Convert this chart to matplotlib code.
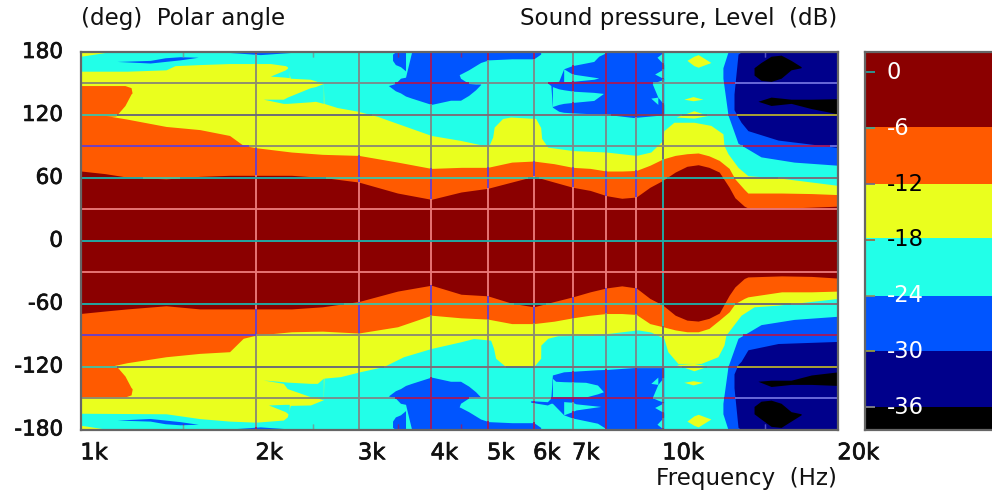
import numpy as np
import matplotlib
matplotlib.use("Agg")
import matplotlib.pyplot as plt
from matplotlib.collections import LineCollection
import matplotlib.patheffects as pe

W, H = 992, 493
COL = {'red': '#8b0000', 'orange': '#ff5a00', 'yellow': '#eaff1e', 'cyan': '#22ffe8',
       'blue': '#0055ff', 'navy': '#00008b', 'black': '#000000'}
GRID_MINOR = {'red': '#ea7878', 'orange': '#6a40c8', 'yellow': '#8c8c70', 'cyan': '#7a8c8c',
              'blue': '#a01a60', 'navy': '#6c6cdc', 'black': '#6c6cdc'}
GRID_MAJOR = {'red': '#20aca8', 'orange': '#44c0a0', 'yellow': '#686878', 'cyan': '#7c6c78',
              'blue': '#8a3a58', 'navy': '#b0a830', 'black': '#b0a830'}

# ---- main contour boundaries: frequency (Hz) / polar angle (deg)
F_MAIN = [1000, 1100, 1200, 1400, 1600, 1800, 1900, 2000, 2300, 2600, 3000, 3500, 4000, 4500, 5000,
          5500, 6000, 6500, 7000, 7500, 8000, 8500, 9000, 9500, 10000, 10500, 11000, 11500, 12000,
          12500, 13000, 13300, 13800, 14000, 16000, 18000, 20000]
RED_TOP = [66.5, 64, 60.7, 59, 61.4, 62.4, 62.4, 62.4, 62.4, 60.4, 56, 45.5, 39.5, 46.5, 50,
           56, 61.4, 56, 51, 48, 43, 40.5, 41.7, 51, 57.6, 65.5, 71, 72.5, 70,
           65.5, 51, 41, 33, 31.3, 31, 32, 33]
RED_BOT = [-69.3, -67, -65, -62, -65, -65, -65, -65, -65, -63, -58, -48, -42.4, -51, -52.5,
           -59.6, -63, -58, -53.5, -48.7, -45, -43, -45, -55, -61.4, -71, -75.7, -76.6, -74,
           -69, -52, -44, -36, -34.5, -33.5, -34, -35.6]
ORANGE_TOP = [119.5, 119.5, 116, 109, 106, 100.4, 91, 88.7, 84.6, 82.4, 81.4, 75, 69, 70, 70,
              75, 76, 73.5, 70, 69, 66.5, 66.5, 67, 72, 78, 81.4, 83, 83.7, 81,
              76.6, 69, 59, 49, 45.5, 45.5, 45, 44]
ORANGE_BOT = [-120.8, -120.8, -116.3, -110.6, -107.4, -105.8, -93, -90, -86.8, -86.2, -88, -82, -71, -73.5, -74.7,
              -79, -79, -76.7, -73.5, -71, -69.4, -69.4, -70.3, -79, -82, -85, -86.8, -86.8, -83.6,
              -75.7, -67.8, -60, -55, -53.5, -48.7, -48.7, -48]

YEL_TOP_F = [1000, 1200, 1400, 1451, 1600, 1800, 2000, 2115, 2245, 2262, 2289, 2479, 2609, 2615, 2758, 2985,
             3232, 4000, 4490, 4729, 5018, 5100, 5130, 5303, 5475, 6046, 6166, 6190, 6341, 7000, 8000, 9000,
             9535, 10000, 10040, 10446, 11308, 12094, 12683, 12735, 12940, 13465, 14003, 15777, 18000, 20000]
YEL_TOP_A = [161.7, 161.7, 163, 167, 168, 169, 169, 169, 167, 166, 155, 154, 150, 131, 127, 123.6,
             118.6, 100.4, 95.7, 93, 90, 99, 108.4, 116.6, 118, 116.6, 108, 97.6, 89.3, 86, 84.6, 81.4,
             84.6, 95.7, 105, 113, 113, 110, 102, 91, 83, 70, 62, 60, 56, 52.8]
YEL_BOT_F = [1000, 1400, 1600, 1800, 2000, 2227, 2262, 2289, 2479, 2609, 2615, 2791, 3022, 3310, 3583, 4000,
             4490, 4729, 5058, 5118, 5159, 5368, 6000, 6166, 6170, 6341, 6597, 7606, 9057, 9535, 10040, 10200,
             10613, 11627, 12434, 12735, 12835, 13627, 14346, 15777, 20000]
YEL_BOT_A = [-164.5, -165, -169.6, -172, -173, -171, -168, -157, -156.6, -151.6, -131, -129.6, -124.8, -120, -110.6, -102.7,
             -96.4, -93.2, -94.8, -102.7, -112, -120, -120, -112, -99.5, -93, -90.6, -90, -85, -87, -93, -105.8,
             -117, -117, -110.6, -99.5, -90, -71, -63, -61.4, -55]

# ---- regions as (freq, near edge, far edge); one list per half of the plot
BLUE_SHARED = [
    ([3431, 3470, 3540, 3612], [172, 168, 166, 162], [178, 180, 180, 180]),
    ([3375, 3470, 3540, 3612, 3700, 4000, 4316, 4490, 4636, 4766, 4862],
     [148, 143, 141, 138, 136, 130, 134, 134, 138.6, 144, 149],
     [148, 150, 155, 156, 180, 180, 180, 155, 150, 149.5, 149.5]),
    ([4316, 4490, 4636, 4862, 5018, 5500, 6000, 6166], [155, 159, 163, 170, 172.5, 173.5, 173.5, 178],
     [180, 180, 180, 180, 180, 180, 180, 180]),
    ([12683, 12940, 13465, 14747, 16810, 20000], [155, 120, 93, 80, 75, 72], [165, 180, 180, 180, 180, 180]),
    ([1153, 1315, 1395, 1480, 1590], [171, 169.5, 171, 172.5, 175], [171, 172, 174.5, 175.5, 175]),
    ([1805, 2033, 2289], [179.5, 177.5, 179.5], [180, 180, 180]),
]
BLUE_RIGHT_TOP = ([6332, 6420, 6459, 6622, 6754, 6988, 7607, 7760, 8031, 8900, 10000, 10040],
                  [150.6, 148, 127.4, 123.5, 122.5, 122, 121, 120.8, 120.4, 117.5, 120, 120],
                  [150.6, 151, 151.5, 152, 164, 167, 171, 176, 180, 180, 180, 180])
BLUE_RIGHT_BOT = ([5928, 6332, 6420, 6459, 6754, 6988, 7720, 8031, 8900, 10000, 10040],
                  [-152.5, -153.5, -150, -128, -125, -124.5, -123, -122.7, -121, -121, -121],
                  [-154, -156.6, -155, -155, -166, -169, -174, -180, -180, -180, -180])
NAVY_TOP = [([13252, 13465, 13627, 14003, 15777, 20000], [125, 118, 113, 105, 96, 89], [140, 178, 180, 180, 180, 180])]
NAVY_BOT = [([13252, 13465, 13627, 14003, 15777, 20000], [-127, -118, -115, -104, -98, -96],
             [-140, -178, -180, -180, -180, -180])]
BLACK_TOP = [([14346, 14747, 15347, 15967, 16610, 17284], [158, 153, 152, 155, 163, 165], [165, 170, 176, 177, 172, 166]),
             ([14568, 15347, 16610, 18000, 20000], [133, 129, 131, 126, 121], [133, 137, 135, 135, 135.5])]
BLACK_BOT = [([14346, 14747, 15347, 15967, 16610, 17284], [-158, -153, -152, -155, -163, -165], [-165, -170, -177, -178, -172, -166]),
             ([14568, 15347, 16610, 18000, 20000], [-134, -133, -133, -128, -125], [-134, -139, -137, -137, -138])]
CYAN_TEETH = [
    ([9770, 10040], [175, 168], [175, 180]),
    ([9680, 10040], [159, 154.5], [159, 164]),
    ([9590, 9803, 10040], [149.6, 137, 130], [149.6, 152, 154]),
    ([9535, 9803], [136, 130], [136, 137]),
]
CYAN_TONGUES_TOP = [
    ([6754, 6988, 7607, 7760], [151.5, 152, 154, 155.3], [164, 159, 156, 155.3]),
    ([6459, 6622, 6754, 7026, 7607, 7905], [128, 130, 131, 132, 133.8, 140.5], [147, 144.9, 144, 142.6, 141.5, 140.5]),
]
CYAN_TONGUES_BOT = [
    ([6459, 6543, 6754, 7369, 7720, 7905], [-131.2, -134, -134.4, -135, -137.6, -144], [-149, -149, -149, -149, -146, -144]),
    ([6754, 6988, 7085, 7820], [-153.4, -154, -155.5, -158], [-166, -163, -161.4, -158]),
]
YELLOW_SPOTS = [
    ([11000, 11308, 11500, 12094], [172, 167, 165.5, 170], [172, 176, 177.5, 170]),
    ([10867, 11270, 11717], [135, 133.5, 135], [135, 137.5, 135]),
    ([10540, 11308, 11955], [118, 117, 119.5], [118, 124, 119.5]),
    ([1000, 1115], [176, 180], [180, 180]),
]
FINGER_TOP = [([2057, 2227, 2262, 2479, 2528, 2609], [135, 131, 131, 132.5, 133, 131], [135, 135, 137, 146, 147, 150]),
              ([2115, 2245, 2280], [157, 156, 155.5], [157, 163, 166])]
FINGER_BOT = [([2057, 2227, 2262, 2479, 2548, 2609], [-132.8, -134.4, -134.8, -136, -136, -131], [-132.8, -136, -141, -148.7, -150, -151.6]),
              ([2100, 2245, 2280], [-156.6, -156, -156], [-156.6, -163, -166])]
ORANGE_BLOB_F = [1000, 1148, 1190, 1219, 1224]
ORANGE_BLOB_LO = [118, 119, 129, 140, 141]
ORANGE_BLOB_HI = [148, 148, 148, 146, 141]


def flip(regions):
    return [(f, [-x for x in a], [-x for x in b]) for f, a, b in regions]


layers = [('cyan', F_MAIN, [-180] * len(F_MAIN), [180] * len(F_MAIN))]
def add(band, regions):
    for f, a, b in regions:
        layers.append((band, f, a, b))

add('blue', BLUE_SHARED); add('blue', flip(BLUE_SHARED))
add('blue', [BLUE_RIGHT_TOP, BLUE_RIGHT_BOT])
add('navy', NAVY_TOP); add('navy', NAVY_BOT)
add('black', BLACK_TOP); add('black', BLACK_BOT)
add('cyan', CYAN_TEETH); add('cyan', flip(CYAN_TEETH))
add('cyan', CYAN_TONGUES_TOP); add('cyan', CYAN_TONGUES_BOT)
add('yellow', [(YEL_TOP_F, [0] * len(YEL_TOP_F), YEL_TOP_A), (YEL_BOT_F, [0] * len(YEL_BOT_F), YEL_BOT_A)])
add('yellow', YELLOW_SPOTS); add('yellow', flip(YELLOW_SPOTS))
add('cyan', FINGER_TOP); add('cyan', FINGER_BOT)
add('orange', [(F_MAIN, [0] * len(F_MAIN), ORANGE_TOP), (F_MAIN, [0] * len(F_MAIN), ORANGE_BOT),
               (ORANGE_BLOB_F, ORANGE_BLOB_LO, ORANGE_BLOB_HI),
               (ORANGE_BLOB_F, [-x for x in ORANGE_BLOB_LO], [-x - 1 for x in ORANGE_BLOB_HI])])
add('red', [(F_MAIN, [0] * len(F_MAIN), RED_TOP), (F_MAIN, [0] * len(F_MAIN), RED_BOT)])

fig = plt.figure(figsize=(W / 100, H / 100), dpi=100, facecolor='white')
ax = fig.add_axes([81 / W, 1 - 429.5 / H, 757 / W, 377.5 / H])
ax.set_xscale('log')
ax.set_xlim(1000, 20000)
ax.set_ylim(-180, 180)

for band, f, a, b in layers:
    ax.fill_between(f, a, b, color=COL[band], linewidth=0, zorder=1)


def band_at(freq, ang):
    freq = np.asarray(freq, float); ang = np.asarray(ang, float)
    out = np.empty(freq.shape, dtype=object)
    lf = np.log10(freq)
    for band, f, a, b in layers:
        lg = np.log10(f)
        ia, ib = np.interp(lf, lg, a), np.interp(lf, lg, b)
        m = (lf >= lg[0]) & (lf <= lg[-1]) & (ang >= np.minimum(ia, ib)) & (ang <= np.maximum(ia, ib))
        out[m] = band
    return out


def grid_line(freq, ang, palette, lw=1.35):
    bands = band_at(freq, ang)
    pts = np.column_stack([freq, ang])
    segs = np.stack([pts[:-1], pts[1:]], axis=1)
    lc = LineCollection(segs, colors=[palette[b] for b in bands[:-1]], linewidths=lw, zorder=2, capstyle='butt')
    ax.add_collection(lc)


V_MINOR = [2000, 3000, 4000, 5000, 6000, 7000, 8000, 9000]
V_MAJOR = [10000]
H_MINOR = [-150, -90, -30, 30, 90, 150]
H_MAJOR = [-120, -60, 0, 60, 120]
TICK_MINOR = [1500, 2500, 3500, 4500, 15000]

ang_s = np.linspace(-180, 180, 1500)
frq_s = np.logspace(3, np.log10(20000), 2500)
for v in V_MINOR:
    grid_line(np.full_like(ang_s, v), ang_s, GRID_MINOR)
for v in V_MAJOR:
    grid_line(np.full_like(ang_s, v), ang_s, GRID_MAJOR)
for h in H_MINOR:
    grid_line(frq_s, np.full_like(frq_s, h), GRID_MINOR)
for h in H_MAJOR:
    grid_line(frq_s, np.full_like(frq_s, h), GRID_MAJOR)
for v in TICK_MINOR:
    s = np.linspace(175, 180, 20)
    grid_line(np.full_like(s, v), s, GRID_MINOR, lw=1.0)
    grid_line(np.full_like(s, v), -s, GRID_MINOR, lw=1.0)

for s in ax.spines.values():
    s.set_color('#666666'); s.set_linewidth(1.6); s.set_zorder(5)
ax.tick_params(which='both', length=0)
ax.set_xticks([]); ax.set_xticks([], minor=True); ax.set_yticks([])

TEXT = dict(family='DejaVu Sans', color='#111111')
bold = [pe.withStroke(linewidth=0.5, foreground='#111111')]


def px_text(x, y, s, ha='left', va='center', **kw):
    d = dict(TEXT); d.update(kw)
    return fig.text(x / W, 1 - y / H, s, ha=ha, va=va, **d)


Y_TICKS = [180, 120, 60, 0, -60, -120, -180]
X_TICKS = [1000, 2000, 3000, 4000, 5000, 6000, 7000, 10000, 20000]
X_LABELS = ['1k', '2k', '3k', '4k', '5k', '6k', '7k', '10k', '20k']
for v in Y_TICKS:
    ax.annotate(str(v), xy=(0, v), xycoords=('axes fraction', 'data'),
                xytext=(-13, 0), textcoords='offset points', ha='right', va='center',
                path_effects=bold, annotation_clip=False, fontsize=15.5, **TEXT)
for v, l in zip(X_TICKS, X_LABELS):
    ax.annotate(l, xy=(v, 0), xycoords=('data', 'axes fraction'), xytext=(-0.5, -8.5), textcoords='offset points',
                ha='left', va='top', path_effects=bold, annotation_clip=False, fontsize=16.3, **TEXT)

px_text(81, 18, '(deg)  Polar angle', fontsize=16.6)
px_text(837, 18, 'Sound pressure, Level  (dB)', ha='right', fontsize=16.6)
px_text(837, 479, 'Frequency  (Hz)', ha='right', fontsize=16.6)

# ---- colour scale
CB_LEVELS = [2.2, -5.9, -12, -17.8, -24, -30, -36, -38.4]
CB_BANDS = ['red', 'orange', 'yellow', 'cyan', 'blue', 'navy', 'black']
CB_TICKS = [0, -6, -12, -18, -24, -30, -36]
CB_TICK_COL = ['#20aca8', '#30b0a0', '#6a6a90', '#a06040', '#909060', '#a0a030', '#909090']
CB_TEXT_COL = ['white', 'white', 'black', 'black', 'white', 'white', 'white']
cax = fig.add_axes([865 / W, 1 - 429.5 / H, 140 / W, 377.5 / H])
cax.set_xlim(0, 1)
cax.set_ylim(CB_LEVELS[-1], CB_LEVELS[0])
for i, b in enumerate(CB_BANDS):
    cax.axhspan(CB_LEVELS[i + 1], CB_LEVELS[i], color=COL[b], linewidth=0, zorder=1)
for v, tc, c in zip(CB_TICKS, CB_TICK_COL, CB_TEXT_COL):
    cax.plot([0, 0.07], [v, v], color=tc, lw=1.2, solid_capstyle='butt', zorder=2)
    cax.text(0.155, v, str(v), color=c, fontsize=16.3, family='DejaVu Sans', ha='left', va='center', zorder=3)
for k, s in cax.spines.items():
    s.set_color('#666666'); s.set_linewidth(1.6)
cax.spines['right'].set_visible(False)
cax.set_xticks([]); cax.set_yticks([])

fig.savefig('out.png', dpi=100)
